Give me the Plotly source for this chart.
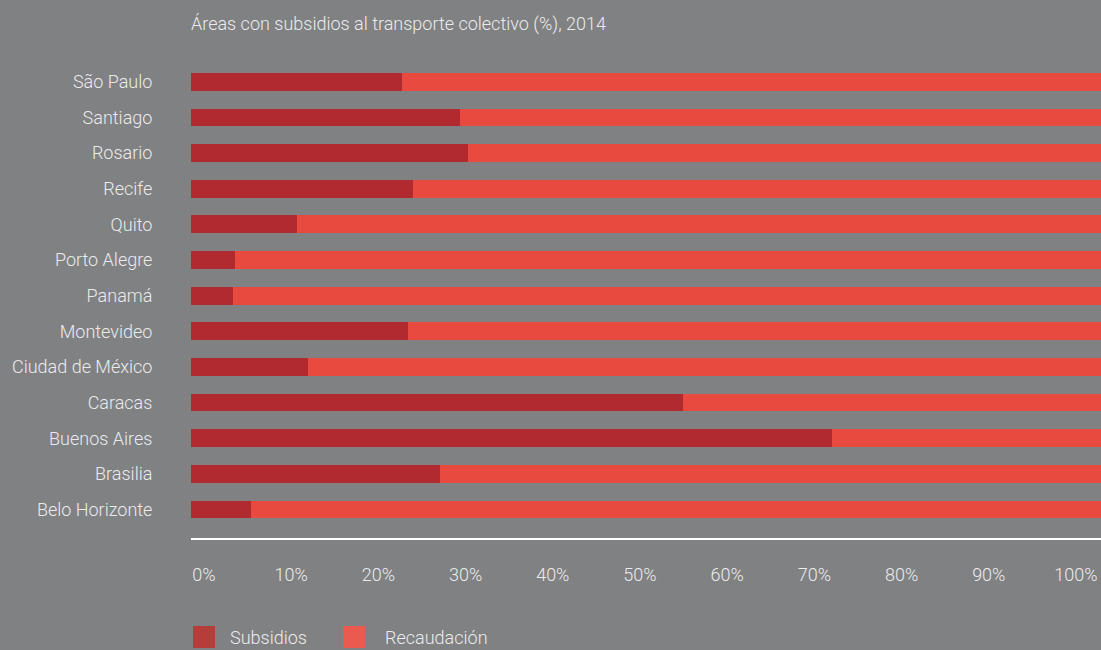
import plotly.graph_objects as go

cities = ["São Paulo", "Santiago", "Rosario", "Recife", "Quito", "Porto Alegre", "Panamá",
          "Montevideo", "Ciudad de México", "Caracas", "Buenos Aires", "Brasilia", "Belo Horizonte"]
subsidios = [23.2, 29.6, 30.4, 24.4, 11.6, 4.8, 4.6, 23.8, 12.9, 54.1, 70.4, 27.4, 6.6]
recaudacion = [100 - s for s in subsidios]
tick_vals = [0, 10, 20, 30, 40, 50, 60, 70, 80, 90, 100]
tick_text = [f"{v}%" for v in tick_vals]

BG = "#808183"
TXT = "#ebebeb"
C_SUB = "#b12a2f"
C_REC = "#e94a40"
FONT = "Roboto"
FS = 18

# plot from bottom (Belo Horizonte) to top (São Paulo)
y_cats = cities[::-1]

fig = go.Figure()
fig.add_trace(go.Bar(y=y_cats, x=subsidios[::-1], orientation="h", marker=dict(color=C_SUB, line=dict(width=0)),
                     name="Subsidios", width=0.5, showlegend=False))
fig.add_trace(go.Bar(y=y_cats, x=recaudacion[::-1], orientation="h", marker=dict(color=C_REC, line=dict(width=0)),
                     name="Recaudación", width=0.5, showlegend=False))
# invisible trace to carry the tick label axis
fig.add_trace(go.Scatter(x=[0, 100], y=[y_cats[0], y_cats[0]], xaxis="x2", mode="markers",
                         marker=dict(opacity=0), showlegend=False, hoverinfo="skip"))

fig.update_layout(
    barmode="stack",
    width=1101, height=650,
    paper_bgcolor=BG, plot_bgcolor=BG,
    margin=dict(l=191, r=0, t=64, b=112),
    font=dict(family=FONT, color=TXT, size=FS, weight=300),
    title=dict(text="Áreas con subsidios al transporte colectivo (%), 2014",
               x=191 / 1101, xanchor="left", xref="container",
               y=1 - 24 / 650, yanchor="middle", yref="container",
               font=dict(family=FONT, size=FS, color=TXT, weight=300)),
    xaxis=dict(range=[0, 100], showgrid=False, zeroline=False, showticklabels=False,
               showline=True, linecolor="#ffffff", linewidth=1.5, fixedrange=True),
    xaxis2=dict(overlaying="x", anchor="y", side="bottom", range=[-1.49, 102.87],
                tickvals=tick_vals, ticktext=tick_text, showgrid=False, zeroline=False,
                showline=False, ticks="outside", ticklen=20, tickcolor="rgba(0,0,0,0)",
                tickfont=dict(family=FONT, size=FS, color=TXT, weight=300)),
    yaxis=dict(range=[-0.8, 12.5], showgrid=False, zeroline=False, showline=False,
               ticks="outside", ticklen=34, tickcolor="rgba(0,0,0,0)",
               tickfont=dict(family=FONT, size=FS, color=TXT, weight=300)),
    showlegend=False,
)

# manual legend
leg = [("Subsidios", "#b53e3b", 193, 228), ("Recaudación", "#ea5a4e", 343, 383)]
for name, col, x0, xt in leg:
    fig.add_shape(type="rect", xref="paper", yref="paper",
                  x0=(x0 - 191) / 910, x1=(x0 + 22 - 191) / 910,
                  y0=(538 - 648) / 474, y1=(538 - 626) / 474,
                  fillcolor=col, line=dict(width=0))
    fig.add_annotation(text=name, xref="paper", yref="paper", x=(xt - 191) / 910,
                       y=(538 - 637) / 474, xanchor="left", yanchor="middle", showarrow=False,
                       font=dict(family=FONT, size=FS, color=TXT, weight=300))

fig.write_html("out.html", config={"displayModeBar": False},
               post_script="document.body.style.margin='0';document.body.style.overflow='hidden';")
